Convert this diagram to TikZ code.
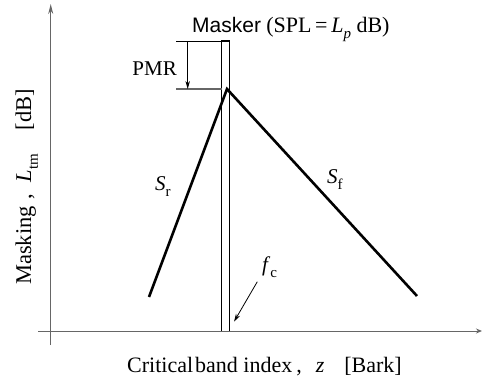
\documentclass[tikz,border=0pt]{standalone}
\usepackage{fontspec}
\setmainfont{Liberation Serif}
\newfontfamily\sansf{Liberation Sans}
\usepackage{graphicx}
\usetikzlibrary{arrows.meta}
\newcommand{\lsub}[1]{\raisebox{-0.3em}{\fontsize{15}{15}\selectfont #1}}
\begin{document}
\begin{tikzpicture}[x=1pt,y=-1pt,
  axis/.style={draw=black!60, line width=1pt},
  slope/.style={line width=2.6pt},
  thinline/.style={line width=0.8pt},
  lbl/.style={inner sep=0pt, font=\fontsize{21}{25}\selectfont}]
\useasboundingbox (0,0) rectangle (482,380);
% axes
\coordinate (yb) at (50.7,345);
\coordinate (yt) at (50.7,4);
\coordinate (xl) at (38,331);
\coordinate (xr) at (482,331);
\draw[axis,-{Stealth[length=10pt,width=5pt]}] (yb) -- (yt);
\draw[axis,-{Stealth[length=6pt,width=5pt]}] (xl) -- (xr);
% masker bar
\coordinate (mbl) at (221.7,331);
\coordinate (mtl) at (221.7,41);
\coordinate (mtr) at (229.3,41);
\coordinate (mbr) at (229.3,331);
\draw[line width=1.4pt] (mbl) -- (mtl) -- (mtr) -- (mbr);
% slopes
\coordinate (peak) at (227,89);
\coordinate (lend) at (149,297);
\coordinate (rend) at (417,296);
\draw[slope] (lend) -- (peak) -- (rend);
% PMR
\coordinate (pt1) at (176,41);
\coordinate (pb1) at (176,89);
\coordinate (pb2) at (222,89);
\coordinate (at1) at (187.7,41);
\coordinate (at2) at (187.7,89);
\draw[thinline] (pt1) -- (mtl);
\draw[draw=black!60, line width=1.2pt] (pb1) -- (pb2);
\draw[thinline,-{Stealth[length=8pt,width=4.5pt]}] (at1) -- (at2);
\node[lbl, anchor=base east] (pmr) at (177,75) {PMR};
% labels
\node[lbl, anchor=base west] (masker) at (192,32) {{\sansf Masker} {\fontsize{22}{26}\selectfont(SPL\,=\,\textit{L}\lsub{\textit{p}} dB)}};
\node[lbl, anchor=base west] (sr) at (155,190) {\textit{S}\lsub{r}};
\node[lbl, anchor=base west] (sf) at (327,183) {\textit{S}\lsub{f}};
\node[lbl, anchor=base west] (fc) at (262,271) {\textit{f}\lsub{c}};
\coordinate (fa1) at (257.3,281.7);
\coordinate (fa2) at (234,321.7);
\draw[thinline,-{Stealth[length=8pt,width=4.5pt]}] (fa1) -- (fa2);
\node[lbl, anchor=base west, font=\fontsize{22}{26}\selectfont] (xlab) at (127,372) {Critical\hspace{2pt}band index\hspace{4pt},\hspace{14pt}\textit{z}\hspace{20pt}[Bark]};
\node[lbl, anchor=base west, rotate=90, font=\fontsize{22.5}{26}\selectfont] (ylab) at (31,285) {Masking\hspace{7pt},\hspace{11pt}\textit{L}\lsub{tm}\hspace{24pt}[dB]};
\end{tikzpicture}
\end{document}
